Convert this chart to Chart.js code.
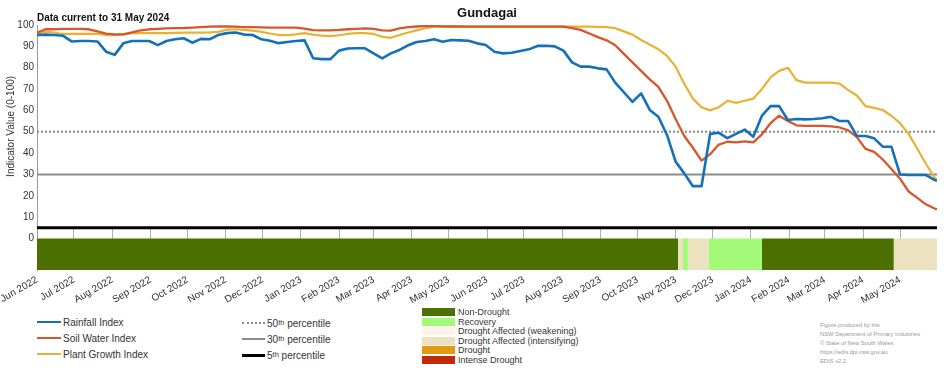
<!DOCTYPE html>
<html>
<head>
<meta charset="utf-8">
<title>Gundagai</title>
<script src="https://cdn.jsdelivr.net/npm/chart.js@4.4.1/dist/chart.umd.min.js"></script>
<style>
  body { margin: 0; background: #fff; font-family: "Liberation Sans", Arial, sans-serif; color: #222; }
  #wrap { position: relative; width: 952px; height: 370px; overflow: hidden; }
  #lineBox { position: absolute; left: 0; top: 0; }
  #bandBox { position: absolute; left: 0; top: 229px; }
  .title { position: absolute; left: 487px; top: 5px; transform: translateX(-50%); font-weight: bold; font-size: 13px; color: #111; }
  .current { position: absolute; left: 37px; top: 12px; font-weight: bold; font-size: 10px; color: #111; }
  .item { position: absolute; display: flex; align-items: center; white-space: nowrap; color: #333; }
  .item .swatch { display: inline-block; margin-right: 2px; }
  .item sup { font-size: 7.5px; vertical-align: 5px; line-height: 0; }
  .credit { position: absolute; left: 820px; top: 321px; font-size: 5.8px; line-height: 8.9px; color: #999; }
</style>
</head>
<body>
<div id="wrap">
  <div id="lineBox"><canvas id="lineChart" width="952" height="231"></canvas></div>
  <div id="bandBox"><canvas id="bandChart" width="952" height="77"></canvas></div>
  <div class="title">Gundagai</div>
  <div class="current">Data current to 31 May 2024</div>
  <div id="legend"></div>
  <div class="credit">Figure produced by the<br>NSW Department of Primary Industries<br>© State of New South Wales<br>https://edis.dpi.nsw.gov.au<br>EDIS v2.2</div>
</div>
<script>
// Weekly samples from 1 Jun 2022, last one on 31 May 2024
const firstDate = '2022-06-01';
const lastDate = '2024-05-31';

const rainfallIndex = [
  95.3, 95.5, 95.3, 95.0, 92.3, 92.5, 92.5, 92.3, 87.5, 86.0,
  91.4, 92.5, 92.5, 92.5, 90.6, 92.5, 93.3, 93.8, 91.7, 93.5,
  93.3, 95.3, 96.2, 96.5, 95.5, 95.3, 93.3, 92.6, 91.5, 92.0,
  92.5, 92.8, 84.4, 84.0, 84.0, 88.0, 89.0, 89.1, 89.1, 86.7,
  84.4, 86.7, 88.3, 90.5, 92.0, 92.5, 93.3, 92.2, 93.0, 92.8,
  92.6, 91.4, 90.6, 87.5, 86.7, 87.0, 87.8, 88.6, 90.2, 90.3,
  90.0, 88.0, 82.5, 80.5, 80.5, 79.7, 79.2, 73.0, 68.5, 64.0,
  68.0, 60.2, 57.0, 48.5, 36.0, 30.5, 24.5, 24.5, 49.0, 49.5,
  47.0, 49.0, 51.0, 47.7, 57.5, 62.0, 62.0, 55.5, 56.0, 55.8,
  56.0, 56.3, 57.0, 55.0, 55.0, 48.0, 48.0, 46.9, 43.0, 43.0,
  30.0, 29.7, 29.7, 29.7, 27.4, 27.0
];

const soilWaterIndex = [
  96.4, 98.0, 98.0, 98.2, 98.2, 98.2, 98.0, 97.0, 96.0, 95.6,
  95.6, 96.5, 97.5, 98.0, 98.2, 98.4, 98.5, 98.6, 98.8, 99.0,
  99.2, 99.3, 99.3, 99.2, 99.0, 99.0, 98.9, 98.8, 98.8, 98.8,
  98.8, 98.3, 97.6, 97.5, 97.5, 97.7, 98.0, 98.2, 98.4, 98.2,
  97.5, 97.4, 98.4, 99.0, 99.3, 99.5, 99.5, 99.4, 99.3, 99.3,
  99.2, 99.2, 99.2, 99.2, 99.2, 99.2, 99.2, 99.2, 99.2, 99.2,
  99.2, 99.2, 98.5, 97.7, 96.0, 94.3, 92.8, 90.5, 86.5, 82.5,
  78.5, 74.5, 71.0, 64.5, 56.0, 48.0, 42.5, 36.5, 39.5, 44.0,
  45.3, 45.0, 45.5, 45.0, 48.8, 54.0, 57.5, 55.0, 53.0, 52.7,
  52.7, 52.7, 52.5, 52.0, 50.6, 47.5, 42.0, 40.6, 37.0, 32.5,
  28.0, 22.0, 19.0, 16.0, 14.0, 13.7
];

const plantGrowthIndex = [
  95.8, 96.9, 96.5, 95.8, 95.8, 95.8, 95.8, 95.8, 95.3, 95.3,
  95.6, 96.2, 96.2, 96.2, 96.2, 96.2, 96.3, 96.4, 96.4, 96.4,
  96.5, 96.8, 97.8, 98.0, 97.7, 97.4, 96.8, 96.0, 95.3, 95.3,
  95.6, 96.2, 95.5, 95.0, 94.8, 95.2, 95.8, 96.2, 96.2, 95.8,
  94.5, 94.0, 95.3, 96.5, 97.5, 98.5, 99.2, 99.2, 99.2, 99.2,
  99.2, 99.2, 99.2, 99.2, 99.2, 99.2, 99.2, 99.2, 99.2, 99.2,
  99.2, 99.2, 99.2, 99.2, 99.2, 99.1, 99.0, 98.5, 97.0, 95.5,
  93.0, 90.8, 88.6, 85.5, 80.5, 72.5, 65.5, 61.5, 60.0, 61.5,
  64.5, 63.5, 64.5, 65.5, 70.0, 75.5, 78.5, 80.0, 74.2, 73.0,
  73.0, 73.0, 73.0, 72.5, 69.5, 67.0, 62.0, 61.2, 60.2, 57.5,
  54.0, 49.0, 42.0, 35.0, 28.5, 27.4
];

const seriesNames = ['Rainfall Index', 'Soil Water Index', 'Plant Growth Index'];
const seriesColors = ['#1470b8', '#d5572b', '#e9b132'];

const percentileLevels = [50, 30, 5];
const percentileNames = ['50', '30', '5'];

const yTicks = [10, 20, 30, 40, 50, 60, 70, 80, 90, 100];

const tickDates = [
  '2022-06-01', '2022-07-01', '2022-08-01', '2022-09-01', '2022-10-01', '2022-11-01',
  '2022-12-01', '2023-01-01', '2023-02-01', '2023-03-01', '2023-04-01', '2023-05-01',
  '2023-06-01', '2023-07-01', '2023-08-01', '2023-09-01', '2023-10-01', '2023-11-01',
  '2023-12-01', '2024-01-01', '2024-02-01', '2024-03-01', '2024-04-01', '2024-05-01'
];
const tickLabels = [
  'Jun 2022', 'Jul 2022', 'Aug 2022', 'Sep 2022', 'Oct 2022', 'Nov 2022',
  'Dec 2022', 'Jan 2023', 'Feb 2023', 'Mar 2023', 'Apr 2023', 'May 2023',
  'Jun 2023', 'Jul 2023', 'Aug 2023', 'Sep 2023', 'Oct 2023', 'Nov 2023',
  'Dec 2023', 'Jan 2024', 'Feb 2024', 'Mar 2024', 'Apr 2024', 'May 2024'
];

const droughtClasses = ['Non-Drought', 'Recovery', 'Drought Affected (weakening)',
  'Drought Affected (intensifying)', 'Drought', 'Intense Drought'];
const droughtColors = ['#4b7000', '#a2fa78', '#fcf4ea', '#ede2c0', '#e39a12', '#c0290a'];

// drought phase periods
const bandStarts = ['2022-06-01', '2023-11-03', '2023-11-07', '2023-11-11', '2023-11-28', '2024-01-10', '2024-04-26'];
const bandEnds   = ['2023-11-03', '2023-11-07', '2023-11-11', '2023-11-28', '2024-01-10', '2024-04-26', '2024-05-31'];
const bandClass  = [0, 3, 1, 3, 1, 0, 3];

const DAY = 86400000;
function dayOf(str) {
  return Math.round((Date.parse(str + 'T00:00:00Z') - Date.parse(firstDate + 'T00:00:00Z')) / DAY);
}

const endDay = dayOf(lastDate);
const sampleDays = [];
for (let d = 0; d <= endDay; d += 7) sampleDays.push(d);
sampleDays.push(endDay);

const FONT = '"Liberation Sans", Arial, sans-serif';
Chart.defaults.font.family = FONT;
Chart.defaults.color = '#333';

function toPoints(values) {
  return values.map((v, i) => ({ x: sampleDays[i], y: v }));
}

// keep the plot box where the layout padding puts it
function fixWidth(s) {
  s.width = 37;
  s.paddingTop = 0;
  s.paddingBottom = 0;
}

// ---- index lines ----
const seriesValues = [rainfallIndex, soilWaterIndex, plantGrowthIndex];
const seriesWidths = [2.6, 2.3, 2.2];
const lineDatasets = seriesValues.map((vals, i) => ({
  label: seriesNames[i],
  data: toPoints(vals),
  borderColor: seriesColors[i],
  borderWidth: seriesWidths[i],
  pointRadius: 0,
  tension: 0,
  borderJoinStyle: 'round'
}));

const pctColors = ['#8c8c8c', '#8c8c8c', '#000000'];
const pctWidths = [2, 2, 3];
const pctDash = [[2, 2], [], []];
percentileLevels.forEach((lvl, i) => {
  lineDatasets.push({
    label: percentileNames[i] + 'th percentile',
    data: [{ x: 0, y: lvl }, { x: endDay, y: lvl }],
    borderColor: pctColors[i],
    borderWidth: pctWidths[i],
    borderDash: pctDash[i],
    pointRadius: 0,
    clip: false
  });
});

new Chart(document.getElementById('lineChart'), {
  type: 'line',
  data: { datasets: lineDatasets },
  options: {
    responsive: false,
    animation: false,
    layout: { padding: { top: 25, right: 15, bottom: 3.2, left: 0 } },
    plugins: { legend: { display: false }, tooltip: { enabled: false } },
    scales: {
      x: { type: 'linear', min: 0, max: endDay, display: false },
      y: {
        min: 5,
        max: 100,
        afterFit: fixWidth,
        afterBuildTicks: s => { s.ticks = yTicks.map(v => ({ value: v })); },
        grid: { display: false, drawTicks: false },
        border: { display: true, color: '#999', width: 1 },
        ticks: { font: { size: 10 }, color: '#333', padding: 3 },
        title: {
          display: true,
          text: 'Indicator Value (0-100)',
          font: { size: 10 },
          color: '#333',
          padding: { top: 5, bottom: 0 }
        }
      }
    }
  }
});

// ---- drought phase band ----
const bandDatasets = bandStarts.map((s, i) => ({
  label: droughtClasses[bandClass[i]],
  data: [{ x: dayOf(s), y: 0 }, { x: dayOf(bandEnds[i]), y: 0 }],
  borderWidth: 0,
  borderColor: 'rgba(0,0,0,0)',
  backgroundColor: droughtColors[bandClass[i]],
  pointRadius: 0,
  fill: 'start'
}));

new Chart(document.getElementById('bandChart'), {
  type: 'line',
  data: { datasets: bandDatasets },
  options: {
    responsive: false,
    animation: false,
    layout: { padding: { top: 0, right: 15, bottom: 0, left: 0 } },
    plugins: { legend: { display: false }, tooltip: { enabled: false } },
    scales: {
      x: {
        type: 'linear',
        min: 0,
        max: endDay,
        z: 1,
        afterFit: s => { s.height = 36; s.paddingLeft = 0; s.paddingRight = 0; },
        afterBuildTicks: s => { s.ticks = tickDates.map(d => ({ value: dayOf(d) })); },
        grid: { color: 'rgba(0,0,0,0.3)', lineWidth: 1, drawTicks: false },
        border: { display: false },
        ticks: {
          autoSkip: false,
          minRotation: 30,
          maxRotation: 30,
          padding: 4,
          font: { size: 10 },
          color: '#333',
          callback: (v, i) => tickLabels[i]
        }
      },
      y: {
        min: -15,
        max: 4.5,
        afterFit: fixWidth,
        afterBuildTicks: s => { s.ticks = [{ value: 0 }]; },
        grid: { display: false, drawTicks: false },
        border: { display: true, color: '#999', width: 1 },
        ticks: { font: { size: 10 }, color: '#333', padding: 3, callback: () => '0' }
      }
    }
  }
});

// ---- legends ----
const legend = document.getElementById('legend');

seriesNames.forEach((name, i) => {
  const el = document.createElement('div');
  el.className = 'item';
  el.style.cssText = 'left:37px;top:' + (315 + i * 16) + 'px;font-size:10px;height:14px;';
  el.innerHTML = '<span class="swatch" style="width:24px;border-top:2.5px solid ' + seriesColors[i] + '"></span>' + name;
  legend.appendChild(el);
});

percentileNames.forEach((p, i) => {
  const el = document.createElement('div');
  el.className = 'item';
  el.style.cssText = 'left:242px;top:' + (316 + i * 16) + 'px;font-size:10px;height:14px;';
  const style = i === 0 ? 'border-top:2px dotted #8c8c8c' : 'border-top:' + pctWidths[i] + 'px solid ' + pctColors[i];
  el.innerHTML = '<span class="swatch" style="width:23px;' + style + '"></span>' + p + '<sup>th</sup>&nbsp;percentile';
  legend.appendChild(el);
});

droughtClasses.forEach((name, i) => {
  const el = document.createElement('div');
  el.className = 'item';
  el.style.cssText = 'left:422px;top:' + (307 + i * 9.5) + 'px;font-size:9px;height:10px;';
  el.innerHTML = '<span class="swatch" style="width:33px;height:8px;margin-right:3px;background:' + droughtColors[i] + '"></span>' + name;
  legend.appendChild(el);
});
</script>
</body>
</html>
